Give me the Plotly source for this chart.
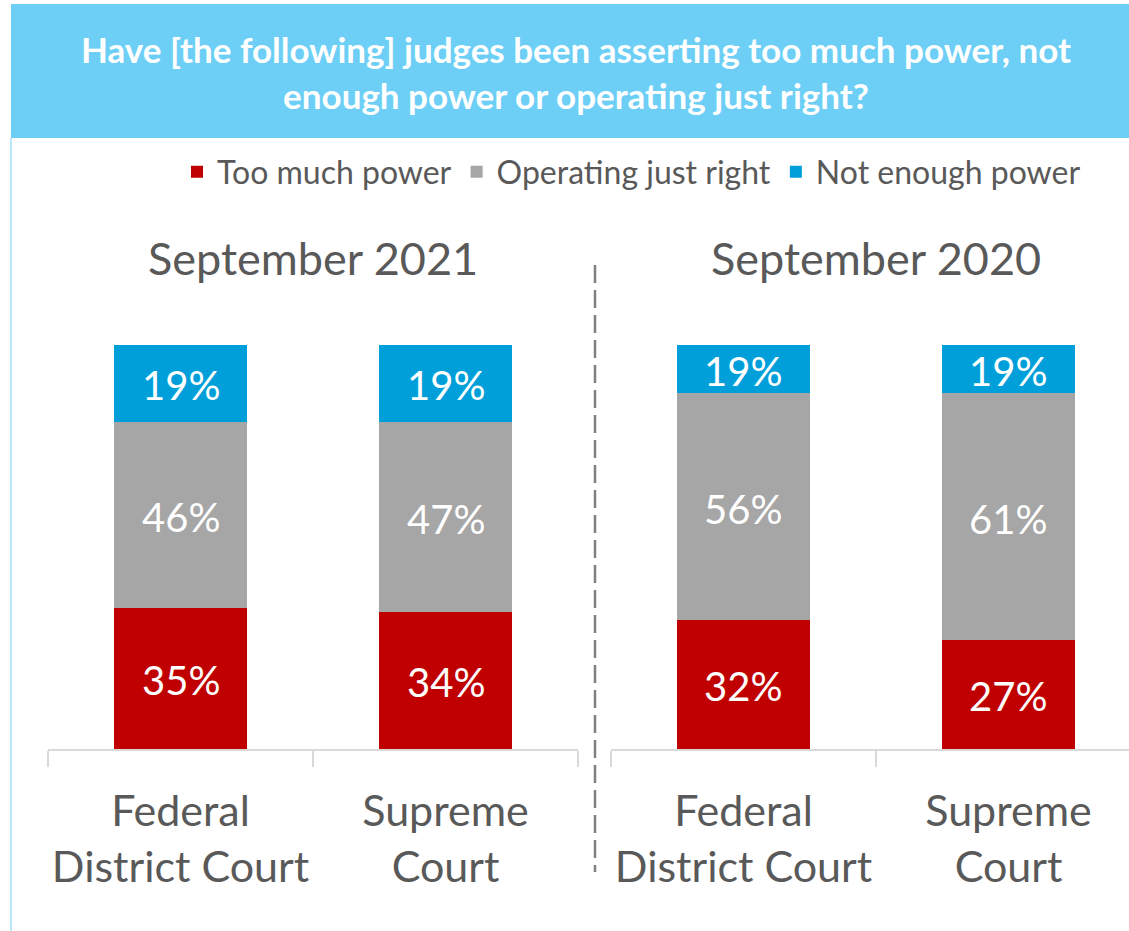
import plotly.graph_objects as go

# Survey results (percent of respondents)
courts = ["Federal<br>District Court", "Supreme<br>Court"]
periods = ["September 2021", "September 2020"]
series_names = ["Too much power", "Operating just right", "Not enough power"]
too_much = {"September 2021": [35, 34], "September 2020": [32, 27]}
just_right = {"September 2021": [46, 47], "September 2020": [56, 61]}
not_enough = {"September 2021": [19, 19], "September 2020": [19, 19]}

colors = ["#C00000", "#A6A6A6", "#009FDA"]
W, H = 1129, 931
FONT = "Lato"
GREY_TXT = "#595959"

fig = go.Figure()

for i, period in enumerate(periods):
    xa = "x" if i == 0 else "x2"
    ya = "y" if i == 0 else "y2"
    stacks = [too_much[period], just_right[period], not_enough[period]]
    base = [0, 0]
    for name, vals, col in zip(series_names, stacks, colors):
        fig.add_trace(go.Bar(
            x=courts, y=vals, name=name, marker=dict(color=col, line=dict(width=0)),
            width=0.5, xaxis=xa, yaxis=ya, legendgroup=name, showlegend=(i == 0),
            hoverinfo="skip",
        ))
        # label sits in the middle of the visible part of each segment (axis tops out at 100%)
        for c, b, v in zip(courts, base, vals):
            fig.add_annotation(
                x=c, y=(b + min(100, b + v)) / 2, xref=xa, yref=ya, text=f"{v}%",
                showarrow=False, yshift=-2, font=dict(family=FONT, size=40, color="white"),
            )
        base = [b + v for b, v in zip(base, vals)]

y_dom = [1 - 749 / H, 1 - 345 / H]
axis_common = dict(
    type="category", tickson="boundaries", ticks="outside", ticklen=16,
    tickcolor="#D9D9D9", tickwidth=1.5, showline=True, linecolor="#D9D9D9",
    linewidth=1.5, showgrid=False, zeroline=False, fixedrange=True, tickangle=0,
    tickfont=dict(family=FONT, size=43, color=GREY_TXT), ticklabelstandoff=24,
)
fig.update_layout(
    xaxis=dict(domain=[48 / W, 578 / W], range=[-0.5, 1.5], anchor="y", **axis_common),
    xaxis2=dict(domain=[611 / W, 1.0], range=[-0.5, 1.5 - 12 / 265], anchor="y2", **axis_common),
    yaxis=dict(domain=y_dom, range=[0, 100], visible=False, fixedrange=True),
    yaxis2=dict(domain=y_dom, range=[0, 100], visible=False, fixedrange=True, anchor="x2"),
)

# header band and left rule
fig.add_shape(type="rect", xref="paper", yref="paper", x0=11 / W, x1=1, y0=1 - 138 / H, y1=1 - 4 / H,
              fillcolor="#6DCFF6", line=dict(width=0), layer="below")
fig.add_shape(type="line", xref="paper", yref="paper", x0=11 / W, x1=11 / W, y0=0, y1=1 - 138 / H,
              line=dict(color="#BDE8F8", width=2))
# dashed divider between periods
fig.add_shape(type="line", xref="paper", yref="paper", x0=595 / W, x1=595 / W,
              y0=1 - 265 / H, y1=1 - 872 / H, line=dict(color="#808080", width=2.5, dash="18px,7px"))

for i, period in enumerate(periods):
    fig.add_annotation(text=period, xref="x" if i == 0 else "x2", x=0.5, xanchor="center",
                       yref="paper", y=1 - 258 / H, yanchor="middle", showarrow=False,
                       font=dict(family=FONT, size=45, color=GREY_TXT))

fig.update_layout(
    width=W, height=H, margin=dict(l=0, r=0, t=0, b=0),
    paper_bgcolor="white", plot_bgcolor="white", barmode="stack", bargap=0.5,
    title=dict(text="Have [the following] judges been asserting too much power, not<br>enough power or operating just right?",
               x=576 / W, xanchor="center", y=1 - 63 / H, yanchor="middle",
               font=dict(family=FONT, size=35, color="white", weight="bold")),
    legend=dict(orientation="h", x=1086 / W, xanchor="right", y=1 - 172 / H, yanchor="middle",
                font=dict(family=FONT, size=32, color=GREY_TXT), bgcolor="rgba(0,0,0,0)",
                itemclick=False, itemdoubleclick=False),
    showlegend=True,
)

fig.write_html("out.html")
